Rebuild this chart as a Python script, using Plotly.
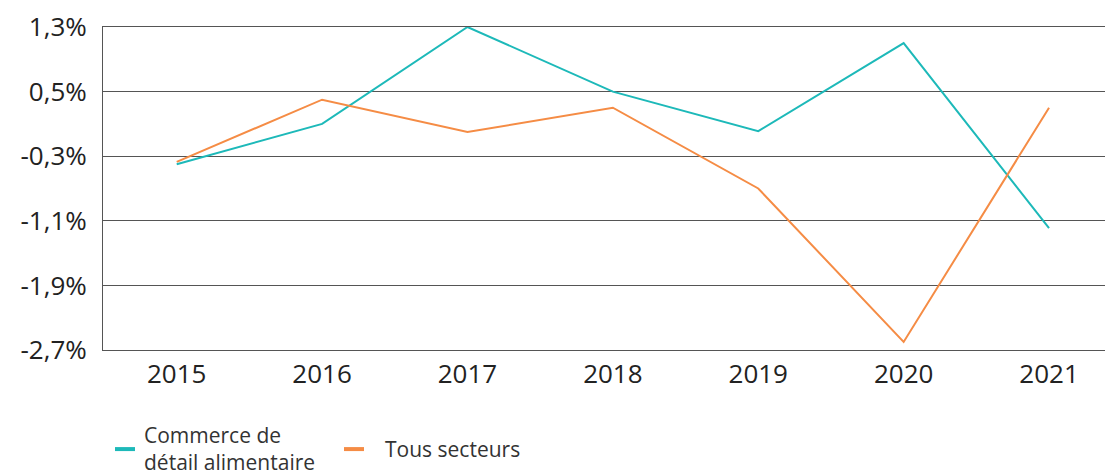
import plotly.graph_objects as go

years = ["2015", "2016", "2017", "2018", "2019", "2020", "2021"]
commerce = [-0.4, 0.1, 1.3, 0.5, 0.01, 1.1, -1.19]
tous = [-0.37, 0.4, 0.0, 0.3, -0.7, -2.6, 0.3]
ytick_vals = [-2.7, -1.9, -1.1, -0.3, 0.5, 1.3]
ytick_text = ["-2,7%", "-1,9%", "-1,1%", "-0,3%", "0,5%", "1,3%"]
series_names = ["Commerce de<br>détail alimentaire", "Tous secteurs"]

TEAL = "#1DB9B9"
ORANGE = "#F58C45"

W, H = 1105, 468
ML, MR, MT, MB = 95, 0, 16, 126
OFF = 8  # browser body margin
PW, PH = W - ML - MR, H - MT - MB


def px_x(px):
    return (px - OFF - ML) / PW


def px_y(py):
    return (OFF + MT + PH - py) / PH


fig = go.Figure()
fig.add_trace(go.Scatter(x=years, y=commerce, mode="lines", name=series_names[0], showlegend=False,
                         line=dict(color=TEAL, width=2), cliponaxis=False))
fig.add_trace(go.Scatter(x=years, y=tous, mode="lines", name=series_names[1], showlegend=False,
                         line=dict(color=ORANGE, width=2), cliponaxis=False))

# manual legend
legend_items = [(TEAL, 115, 135, 142), (ORANGE, 344, 364, 383)]
for (col, x0, x1, xt), nm in zip(legend_items, series_names):
    fig.add_shape(type="line", xref="paper", yref="paper",
                  x0=px_x(x0), x1=px_x(x1), y0=px_y(450), y1=px_y(450),
                  line=dict(color=col, width=4))
    fig.add_annotation(xref="paper", yref="paper", x=px_x(xt), y=px_y(449.5),
                       xanchor="left", yanchor="middle", align="left", showarrow=False,
                       text=nm, font=dict(size=21, color="#333", family="Open Sans"))

fig.update_layout(
    width=W, height=H,
    margin=dict(l=ML, r=MR, t=MT, b=MB),
    paper_bgcolor="white", plot_bgcolor="white",
    font=dict(family="Open Sans", color="#222"),
    showlegend=False,
    xaxis=dict(type="category", range=[-0.507, 6.44], showgrid=False, zeroline=False,
               showline=True, mirror=True, linecolor="#555", linewidth=1, ticks="",
               tickfont=dict(size=26, color="#222"), ticklabelstandoff=1),
    yaxis=dict(range=[-2.7, 1.3], tickvals=ytick_vals, ticktext=ytick_text,
               showgrid=True, gridcolor="#555", gridwidth=1, zeroline=False,
               showline=True, linecolor="#555", linewidth=1, ticks="",
               ticklabeloverflow="allow",
               tickfont=dict(size=26, color="#222"), ticklabelstandoff=10),
)
fig.write_html("out.html")
